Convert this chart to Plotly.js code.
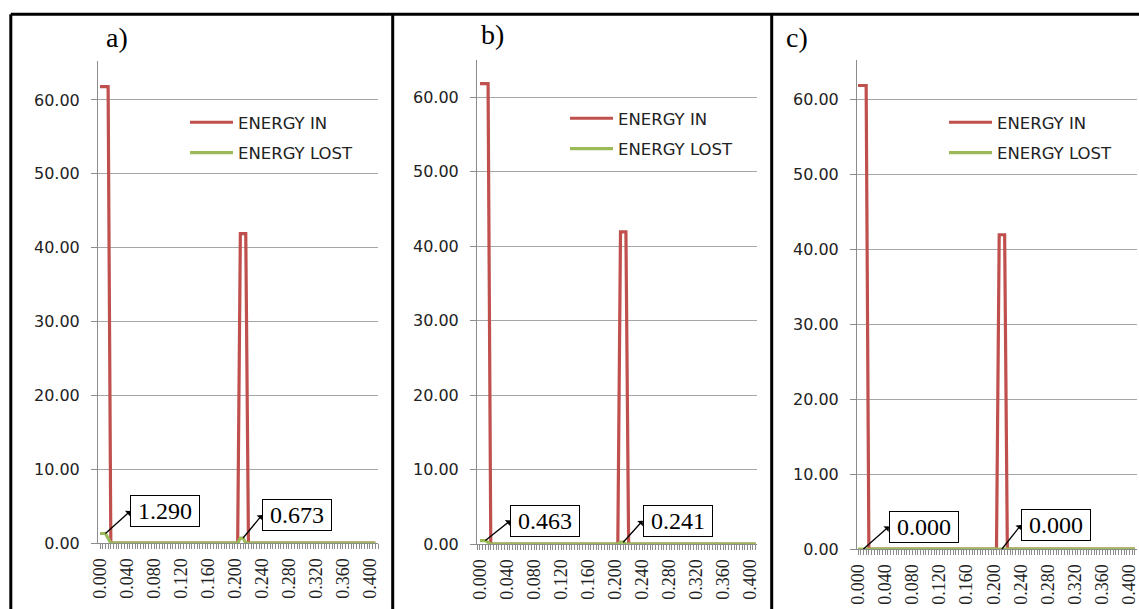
<!DOCTYPE html>
<html>
<head>
<meta charset="utf-8">
<script src="https://cdn.plot.ly/plotly-3.0.1.min.js"></script>
<style>html,body{margin:0;padding:0;background:#fff;}#chart{width:1139px;height:609px;}</style>
</head>
<body>
<div id="chart"></div>
<script>
// ---- data ----
const panelNames = ['a)', 'b)', 'c)'];
const timeIn = [0.000, 0.012, 0.016, 0.204, 0.208, 0.216, 0.220, 0.408];
const energyIn = [61.8, 61.8, 0, 0, 41.9, 41.9, 0, 0];
const timeLost = [0.000, 0.008, 0.016, 0.204, 0.208, 0.212, 0.216, 0.408];
const energyLostA = [1.290, 1.290, 0, 0, 0.673, 0.673, 0, 0];
const energyLostB = [0.463, 0.463, 0, 0, 0.241, 0.241, 0, 0];
const energyLostC = [0, 0, 0, 0, 0, 0, 0, 0];
const lostLabelsA = ['1.290', '0.673'];
const lostLabelsB = ['0.463', '0.241'];
const lostLabelsC = ['0.000', '0.000'];
const labelIdx = [1, 5];           // points of timeLost the callouts refer to
const seriesNames = ['ENERGY IN', 'ENERGY LOST'];

// ---- layout helpers (pixel geometry of the reference page) ----
const W = 1139, H = 609;
const px = v => v / W;
const py = v => 1 - v / H;

const panels = [
  {lost: energyLostA, labels: lostLabelsA, xd: [98, 378], yd: [543, 61], xr: [-0.003, 0.412], yr: [0, 65.28],
   title: [117, 37], leg: [185, 105], call: [[25, -22.5], [19, -23]]},
  {lost: energyLostB, labels: lostLabelsB, xd: [477, 757], yd: [544, 60], xr: [-0.0044, 0.410], yr: [0, 64.97],
   title: [492, 34], leg: [565, 101], call: [[25, -20], [19.5, -21.5]]},
  {lost: energyLostC, labels: lostLabelsC, xd: [857, 1137], yd: [549, 60], xr: [-0.0015, 0.411], yr: [0, 65.2],
   title: [797, 37], leg: [944, 105], call: [[25.5, -22.5], [19, -24]]}
];

const RED = '#c0504d', GREEN = '#9bbb59', GRID = '#a6a6a6', AX = '#8c8c8c';
const traces = [];
const layout = {
  width: W, height: H,
  margin: {l: 0, r: 0, t: 0, b: 0},
  paper_bgcolor: '#ffffff', plot_bgcolor: '#ffffff',
  showlegend: true,
  annotations: [], shapes: []
};

panels.forEach((p, i) => {
  const n = i === 0 ? '' : String(i + 1);
  const xa = 'x' + n, ya = 'y' + n;
  const legName = 'legend' + n;
  traces.push({x: timeIn, y: energyIn, xaxis: xa, yaxis: ya, mode: 'lines', name: seriesNames[0],
    line: {color: RED, width: 3.2}, legend: legName, legendgroup: 'in' + i, hoverinfo: 'x+y'});
  traces.push({x: timeLost, y: p.lost, xaxis: xa, yaxis: ya, mode: 'lines', name: seriesNames[1],
    line: {color: GREEN, width: 3.2}, legend: legName, legendgroup: 'lost' + i, hoverinfo: 'x+y'});

  layout['xaxis' + n] = {
    domain: [px(p.xd[0]), px(p.xd[1])], anchor: ya, range: p.xr,
    tick0: 0, dtick: 0.04, tickformat: '.3f', tickangle: -90,
    ticks: 'outside', ticklen: 5, tickcolor: AX, ticklabelstandoff: 2, ticklabeloverflow: 'allow',
    minor: {dtick: 0.004, tick0: 0, ticks: 'outside', ticklen: 5, tickcolor: AX, showgrid: false},
    showgrid: false, zeroline: false, showline: true, linecolor: AX, linewidth: 1,
    tickfont: {family: 'Liberation Serif, Times New Roman, serif', size: 18, color: '#222'}
  };
  layout['yaxis' + n] = {
    domain: [py(p.yd[0]), py(p.yd[1])], anchor: xa, range: p.yr,
    dtick: 10, tick0: 0, tickformat: '.2f',
    ticks: 'outside', ticklen: 6, tickcolor: AX, ticklabelstandoff: 8,
    showgrid: true, gridcolor: GRID, gridwidth: 1,
    zeroline: false, showline: true, linecolor: AX, linewidth: 1,
    tickfont: {family: 'DejaVu Sans, sans-serif', size: 16, color: '#222'}
  };
  layout[legName] = {
    x: px(p.leg[0]), y: py(p.leg[1]), xanchor: 'left', yanchor: 'top',
    bgcolor: 'rgba(0,0,0,0)', borderwidth: 0, tracegroupgap: 6, itemwidth: 43,
    font: {family: 'DejaVu Sans, sans-serif', size: 16.5, color: '#222'}
  };
  // panel letter
  layout.annotations.push({xref: 'paper', yref: 'paper', x: px(p.title[0]), y: py(p.title[1]),
    xanchor: 'center', yanchor: 'middle', showarrow: false, text: panelNames[i],
    font: {family: 'Liberation Serif, Times New Roman, serif', size: 28, color: '#000'}});
  // callouts for ENERGY LOST
  labelIdx.forEach((k, j) => {
    layout.annotations.push({
      xref: xa, yref: ya, x: timeLost[k], y: p.lost[k],
      text: p.labels[j], showarrow: true, arrowside: 'start', startarrowhead: 1, startarrowsize: 1,
      arrowwidth: 1.3, arrowcolor: '#000', ax: p.call[j][0], ay: p.call[j][1],
      xanchor: 'left', yanchor: 'middle', width: 62, height: 24, align: 'center',
      bordercolor: '#000', borderwidth: 1, borderpad: 3, bgcolor: '#ffffff',
      font: {family: 'Liberation Serif, Times New Roman, serif', size: 24, color: '#000'}
    });
  });
});

// panel frame lines
const frame = [
  [10.8, 14.2, 10.8, 609], [10.8, 14.2, 1139, 14.2], [392.7, 14.2, 392.7, 609], [771.7, 14.2, 771.7, 609]
];
frame.forEach(f => layout.shapes.push({type: 'line', xref: 'paper', yref: 'paper',
  x0: px(f[0]), y0: py(f[1]), x1: px(f[2]), y1: py(f[3]), line: {color: '#000', width: 3}}));

Plotly.newPlot('chart', traces, layout, {displayModeBar: false, staticPlot: true});
</script>
</body>
</html>
